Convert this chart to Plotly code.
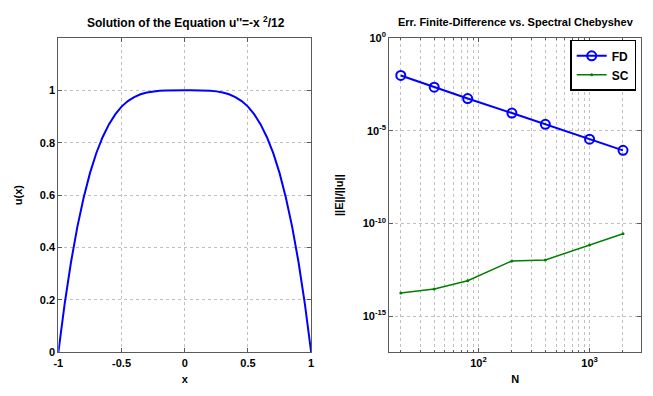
import plotly.graph_objects as go

# Left panel: solution u(x) on [-1, 1]
x_sol = [-1.0, -0.975, -0.95, -0.9, -0.85, -0.8, -0.75, -0.7, -0.65, -0.6, -0.55, -0.5,
         -0.45, -0.4, -0.35, -0.3, -0.25, -0.2, -0.15, -0.1, -0.05, 0.0,
         0.05, 0.1, 0.15, 0.2, 0.25, 0.3, 0.35, 0.4, 0.45, 0.5,
         0.55, 0.6, 0.65, 0.7, 0.75, 0.8, 0.85, 0.9, 0.95, 0.975, 1.0]
u_sol = [0.0, 0.096, 0.185, 0.344, 0.478, 0.590, 0.684, 0.760, 0.821, 0.870, 0.908, 0.938,
         0.959, 0.974, 0.985, 0.992, 0.996, 0.998, 0.999, 1.0, 1.0, 1.0,
         1.0, 1.0, 0.999, 0.998, 0.996, 0.992, 0.985, 0.974, 0.959, 0.938,
         0.908, 0.870, 0.821, 0.760, 0.684, 0.590, 0.478, 0.344, 0.185, 0.096, 0.0]

# Right panel: relative error vs. number of points
N = [20, 40, 80, 200, 400, 1000, 2000]
err_fd = [9.5e-3, 2.2e-3, 5.4e-4, 8.9e-5, 2.2e-5, 3.5e-6, 8.7e-7]
err_sc = [1.8e-14, 2.9e-14, 8.1e-14, 9.5e-13, 1.07e-12, 6.9e-12, 2.8e-11]

left_xticks = [-1, -0.5, 0, 0.5, 1]
left_xlabels = ["-1", "-0.5", "0", "0.5", "1"]
left_yticks = [0, 0.2, 0.4, 0.6, 0.8, 1]
left_ylabels = ["0", "0.2", "0.4", "0.6", "0.8", "1"]
right_xticks = [100, 1000]
right_xlabels = ["10<sup>2</sup>", "10<sup>3</sup>"]
right_xminor = [20, 30, 40, 50, 60, 70, 80, 90, 200, 300, 400, 500, 600, 700, 800, 900, 2000]
right_yticks = [1, 1e-5, 1e-10, 1e-15]
right_ylabels = ["10<sup>0</sup>", "10<sup>-5</sup>", "10<sup>-10</sup>", "10<sup>-15</sup>"]

FONT = "Liberation Sans, Arial, sans-serif"
GRID = "#c0c0c0"
SPINE = "#5a5a5a"
TICKFONT = dict(family=FONT, size=11, color="black", weight="bold")
LABELFONT = dict(family=FONT, size=11, color="black", weight="bold")

fig = go.Figure()

fig.add_trace(go.Scatter(x=x_sol, y=u_sol, mode="lines", line=dict(color="#0000ff", width=2),
                         xaxis="x", yaxis="y", showlegend=False))

fig.add_trace(go.Scatter(x=N, y=err_fd, mode="lines+markers", name="FD",
                         line=dict(color="#0000ff", width=2),
                         marker=dict(symbol="circle-open", size=9, color="#0000ff",
                                     line=dict(width=2, color="#0000ff")),
                         xaxis="x2", yaxis="y2"))
fig.add_trace(go.Scatter(x=N, y=err_sc, mode="lines+markers", name="SC",
                         line=dict(color="#008000", width=1.5),
                         marker=dict(symbol="circle", size=3, color="#008000"),
                         xaxis="x2", yaxis="y2"))

axis_common = dict(showline=True, linecolor=SPINE, linewidth=1, mirror="ticks",
                   ticks="inside", ticklen=4, tickcolor=SPINE,
                   showgrid=True, gridcolor=GRID, griddash="dot", gridwidth=1,
                   zeroline=False, tickfont=TICKFONT)

fig.update_layout(
    width=653, height=396,
    margin=dict(l=0, r=0, t=0, b=0),
    paper_bgcolor="white", plot_bgcolor="white",
    font=dict(family=FONT, size=11, color="black"),
    xaxis=dict(domain=[0.0827, 0.4747], range=[-1, 1], anchor="y",
               tickmode="array", tickvals=left_xticks, ticktext=left_xlabels,
               title=dict(text="x", standoff=7, font=LABELFONT),
               **axis_common),
    yaxis=dict(domain=[0.0985, 0.9217], range=[0, 1.2], anchor="x",
               tickmode="array", tickvals=left_yticks, ticktext=left_ylabels,
               title=dict(text="u(x)", standoff=14, font=LABELFONT),
               **axis_common),
    xaxis2=dict(domain=[0.5957, 0.9862], type="log", range=[1.197, 3.464], anchor="y2",
                tickmode="array", tickvals=right_xticks, ticktext=right_xlabels,
                minor=dict(tickmode="array", tickvals=right_xminor, showgrid=True,
                           gridcolor=GRID, griddash="dot", ticks="inside", ticklen=2,
                           tickcolor=SPINE),
                title=dict(text="N", standoff=7, font=LABELFONT),
                **axis_common),
    yaxis2=dict(domain=[0.0985, 0.9217], type="log", range=[-16.95, 0], anchor="x2",
                tickmode="array", tickvals=right_yticks, ticktext=right_ylabels,
                title=dict(text="||E||/||u||", standoff=16, font=LABELFONT),
                **axis_common),
    legend=dict(x=0.9786, y=0.9167, xanchor="right", yanchor="top",
                bgcolor="white", bordercolor="black", borderwidth=1.5,
                font=dict(family=FONT, size=12, color="black", weight="bold"),
                tracegroupgap=0, itemwidth=30),
    annotations=[
        dict(text="Solution of the Equation u''=-x <sup>2</sup>/12", xref="paper", yref="paper",
             x=183 / 653, y=1 - 15 / 396, xanchor="center", yanchor="middle", showarrow=False,
             font=dict(family=FONT, size=12, color="black", weight="bold")),
        dict(text="Err. Finite-Difference vs. Spectral Chebyshev", xref="paper", yref="paper",
             x=517 / 653, y=1 - 15 / 396, xanchor="center", yanchor="middle", showarrow=False,
             font=dict(family=FONT, size=11, color="black", weight="bold")),
    ],
)

fig.write_html("out.html")
